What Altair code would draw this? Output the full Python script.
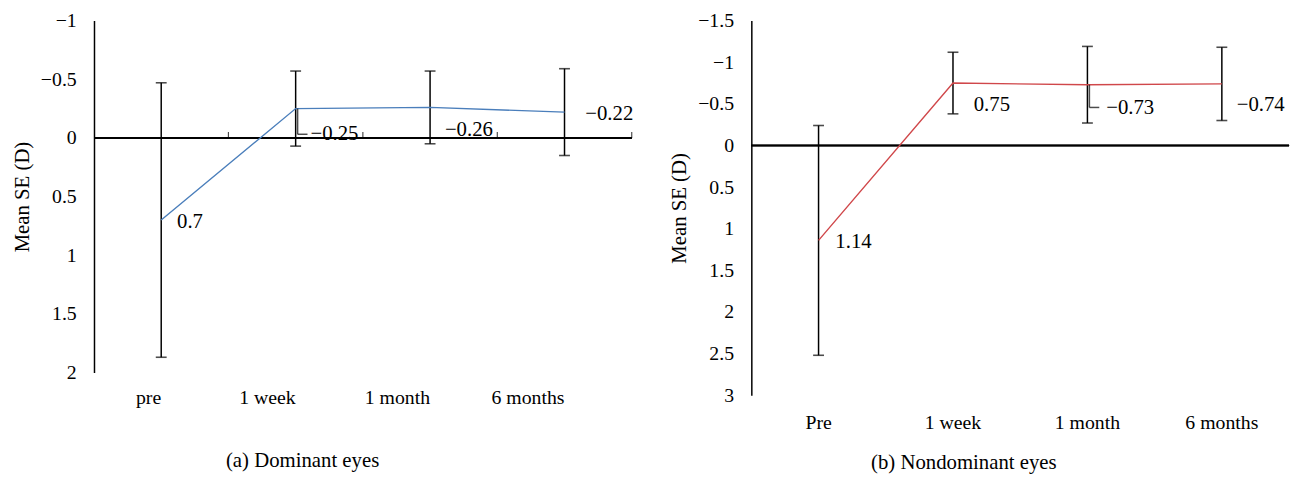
import altair as alt
import pandas as pd

# ---- data ----
cats_a = ["pre", "1 week", "1 month", "6 months"]
mean_a = [0.7, -0.25, -0.26, -0.22]
low_a = [-0.47, -0.57, -0.57, -0.59]
high_a = [1.87, 0.07, 0.05, 0.15]
labels_a = ["0.7", "\u22120.25", "\u22120.26", "\u22120.22"]
yticks_a = [-1, -0.5, 0, 0.5, 1, 1.5, 2]

cats_b = ["Pre", "1 week", "1 month", "6 months"]
mean_b = [1.14, -0.75, -0.73, -0.74]
low_b = [-0.24, -1.12, -1.19, -1.18]
high_b = [2.52, -0.38, -0.27, -0.30]
labels_b = ["1.14", "0.75", "\u22120.73", "\u22120.74"]
yticks_b = [-1.5, -1, -0.5, 0, 0.5, 1, 1.5, 2, 2.5, 3]

FONT = "Liberation Serif"
FS = 20
INK = "#000"


def panel(cats, mean, low, high, labels, yticks, color, height, offsets,
          boundary_ticks, leader_idx, leader_len, xlab_pad, caption, cap_dx, cap_offset):
    df = pd.DataFrame({"cat": cats, "mean": mean, "low": low, "high": high, "label": labels})
    base = alt.Chart(df)
    x = alt.X("cat:N", sort=cats,
              scale=alt.Scale(paddingInner=0, paddingOuter=0),
              axis=alt.Axis(title=None, domain=False, ticks=False, labelAngle=0,
                            labelPadding=xlab_pad, labelFont=FONT, labelFontSize=FS,
                            labelColor=INK))
    yscale = alt.Scale(domain=[yticks[0], yticks[-1]], reverse=True, nice=False, zero=False)
    y = alt.Y("mean:Q", scale=yscale,
              axis=alt.Axis(values=yticks, format="~f", ticks=False, grid=False,
                            domainColor=INK, domainWidth=1.5, labelPadding=18,
                            labelFont=FONT, labelFontSize=FS, labelColor=INK,
                            title="Mean SE (D)", titleFont=FONT, titleFontSize=21,
                            titleFontWeight="normal", titleColor=INK, titlePadding=8))

    zero = base.mark_rule(color=INK, strokeWidth=1.5).encode(y=alt.datum(0))
    layers = [zero]
    if boundary_ticks:
        bt = base.mark_tick(orient="vertical", size=6, thickness=1.2, color=INK,
                            yOffset=-3).encode(
            x=alt.X("cat:N", sort=cats, bandPosition=1), y=alt.datum(0))
        layers.append(bt)
    err = base.mark_rule(color=INK, strokeWidth=1.5).encode(x=x, y="low:Q", y2="high:Q")
    cap_lo = base.mark_tick(orient="horizontal", size=11, thickness=1.6, color=INK).encode(
        x=alt.X("cat:N", sort=cats), y="low:Q")
    cap_hi = base.mark_tick(orient="horizontal", size=11, thickness=1.6, color=INK).encode(
        x=alt.X("cat:N", sort=cats), y="high:Q")
    line = base.mark_line(color=color, strokeWidth=1.4).encode(x=x, y=y)
    layers += [err, cap_lo, cap_hi, line]

    # leader line for one label
    c = cats[leader_idx]
    lead_v = base.mark_tick(orient="vertical", size=leader_len, thickness=1.5, color=INK,
                            xOffset=2, yOffset=leader_len / 2).encode(
        x=alt.X("cat:N", sort=cats), y="mean:Q").transform_filter(alt.datum.cat == c)
    lead_h = base.mark_tick(orient="horizontal", size=10, thickness=1.5, color=INK,
                            xOffset=7, yOffset=leader_len).encode(
        x=alt.X("cat:N", sort=cats), y="mean:Q").transform_filter(alt.datum.cat == c)
    layers += [lead_v, lead_h]

    for c, (dx, dy) in zip(cats, offsets):
        t = base.mark_text(align="left", baseline="middle", font=FONT, fontSize=21,
                           color=INK, dx=dx, dy=dy).encode(
            x=alt.X("cat:N", sort=cats), y="mean:Q", text="label:N"
        ).transform_filter(alt.datum.cat == c)
        layers.append(t)

    return alt.layer(*layers).properties(
        width=544, height=height,
        title=alt.TitleParams(caption, orient="bottom", anchor="middle", frame="group",
                              dx=cap_dx, offset=cap_offset, font=FONT, fontSize=21,
                              fontWeight="normal", color=INK))


left = panel(cats_a, mean_a, low_a, high_a, labels_a, yticks_a, "#4a7ebb", 356,
             [(16, 2), (15, 26), (15, 23), (21, 2)], True, 1, 26, 25,
             "(a) Dominant eyes", -61, 44)
right = panel(cats_b, mean_b, low_b, high_b, labels_b, yticks_b, "#d0474a", 379,
              [(17, 2), (21, 22), (19, 24), (15, 21)], False, 2, 23, 18,
              "(b) Nondominant eyes", -57, 20)

chart = alt.hconcat(left, right, spacing=35).properties(
    padding={"left": 3, "top": 0, "right": 5, "bottom": 5}
).configure_view(stroke=None).configure_concat(spacing=35)

chart.save("out.html", embed_options={"renderer": "svg", "actions": False})
